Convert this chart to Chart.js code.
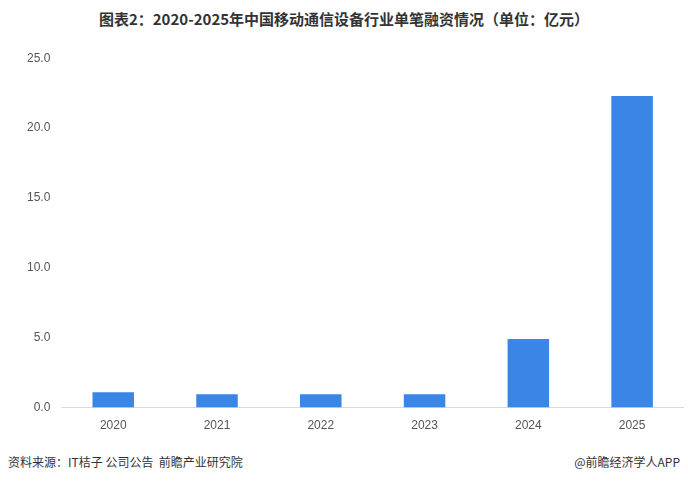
<!DOCTYPE html>
<html>
<head>
<meta charset="utf-8">
<script src="https://cdn.jsdelivr.net/npm/chart.js@4"></script>
<style>
  body { margin: 0; background: #fff; font-family: "Noto Sans CJK SC", sans-serif; }
  #wrap { position: relative; width: 688px; height: 482px; }
  #title { position: absolute; top: 8px; left: 0; width: 688px; text-align: center; font-size: 15px; font-weight: bold; color: #333; }
  #box { position: absolute; top: 48px; left: 8px; width: 676px; height: 388px; }
  .foot { position: absolute; top: 453px; font-size: 12px; color: #333; }
</style>
</head>
<body>
<div id="wrap">
  <div id="title">图表2：2020-2025年中国移动通信设备行业单笔融资情况（单位：亿元）</div>
  <div id="box"><canvas id="c"></canvas></div>
  <div class="foot" style="left:8px">资料来源：IT桔子 公司公告&nbsp;&nbsp;前瞻产业研究院</div>
  <div class="foot" style="right:8px">@前瞻经济学人APP</div>
</div>
<script>
const years = ["2020", "2021", "2022", "2023", "2024", "2025"];
const amounts = [1.1, 0.95, 0.95, 0.95, 4.9, 22.3];

new Chart(document.getElementById("c"), {
    type: "bar",
    data: {
        labels: years,
        datasets: [{
            data: amounts,
            backgroundColor: "#3a86e6",
            categoryPercentage: 1,
            barPercentage: 0.4
        }]
    },
    options: {
        responsive: true,
        maintainAspectRatio: false,
        animation: false,
        layout: { padding: { left: 16 } },
        plugins: { legend: { display: false }, tooltip: { enabled: false } },
        scales: {
            x: {
                grid: { display: false },
                border: { color: "#d9d9d9" },
                ticks: { color: "#555", font: { size: 12 } }
            },
            y: {
                min: 0, max: 25,
                ticks: { stepSize: 5, color: "#555", font: { size: 12 }, callback: v => v.toFixed(1) },
                grid: { display: false },
                border: { display: false }
            }
        }
    }
});
</script>
</body>
</html>
